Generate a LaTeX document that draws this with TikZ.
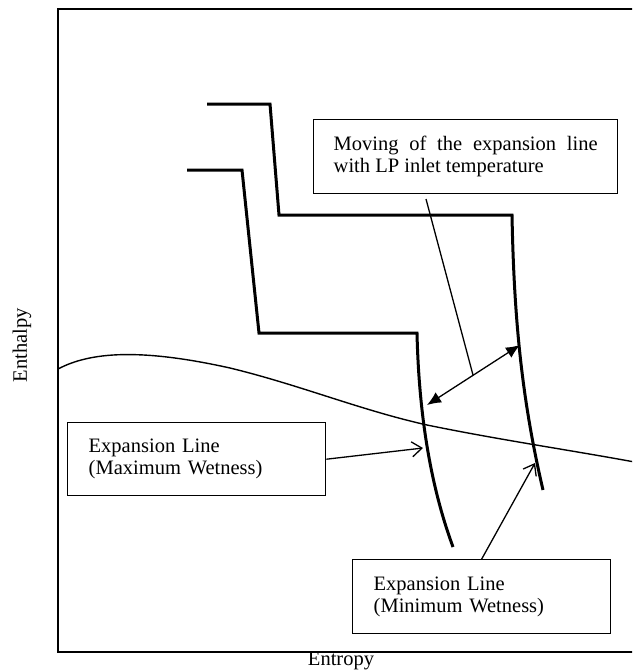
\documentclass[tikz,border=0pt]{standalone}
\usepackage{fontspec}
\setmainfont{Liberation Serif}
\usetikzlibrary{arrows.meta}
\begin{document}
\begin{tikzpicture}[x=1pt,y=-1pt,
  txt/.style={font=\fontsize{20.5}{22}\selectfont},
  boxnode/.style={txt, draw, line width=1.4pt, anchor=north west, inner ysep=0pt},
  expline/.style={line width=3pt, line join=miter},
  frameline/.style={line width=1.5pt},
  thinline/.style={line width=1.3pt},
  openarrow/.style={thinline, -{Straight Barb[length=10pt,width=15pt]}},
  dblarrow/.style={thinline, {Latex[length=14pt,width=12pt]}-{Latex[length=14pt,width=12pt]}}]
\useasboundingbox (0,0) rectangle (632,672);
\clip (0,0) rectangle (632,672);
% frame
\draw[frameline] (58,9) rectangle (700,652);
% axis labels
\node[txt] (xlab) at (341,661) {Entropy};
\node[txt, rotate=90] (ylab) at (22,345) {Enthalpy};
% saturation line
\draw[line width=1.4pt] (58,369) .. controls (90,352) and (140,348) .. (230,368)
  .. controls (300,385) and (360,410) .. (427,425)
  .. controls (500,440) and (570,450) .. (640,463);
% expansion lines
\draw[expline] (187,170) -- (242,170) -- (259,333) -- (417,333)
  .. controls (419,420) and (432,490) .. (453,547);
\draw[expline] (207,104) -- (270,104) -- (279,215) -- (512,215)
  .. controls (514,320) and (522,400) .. (543,490);
% boxes
\node[boxnode, text width=264pt, align=justify, inner xsep=20pt, minimum height=74pt] (movebox) at (313,119)
  {Moving of the expansion line\linebreak with LP inlet temperature};
\node[boxnode, text width=216pt, align=left, inner xsep=21pt, minimum height=73pt] (maxbox) at (67,422)
  {Expansion Line\\(Maximum Wetness)};
\node[boxnode, text width=216pt, align=left, inner xsep=21pt, minimum height=74pt] (minbox) at (352,559)
  {Expansion Line\\(Minimum Wetness)};
% connectors
\coordinate (maxtip) at (423,448);
\coordinate (mintip) at (535,463);
\coordinate (dblA) at (427,405);
\coordinate (dblB) at (520,345);
\coordinate (ptrA) at (426,199);
\coordinate (ptrB) at (473,375);
\draw[openarrow] (maxbox.east) -- (maxtip);
\draw[openarrow] (minbox.north) -- (mintip);
\draw[dblarrow] (dblA) -- (dblB);
\draw[thinline] (ptrA) -- (ptrB);
\end{tikzpicture}
\end{document}
